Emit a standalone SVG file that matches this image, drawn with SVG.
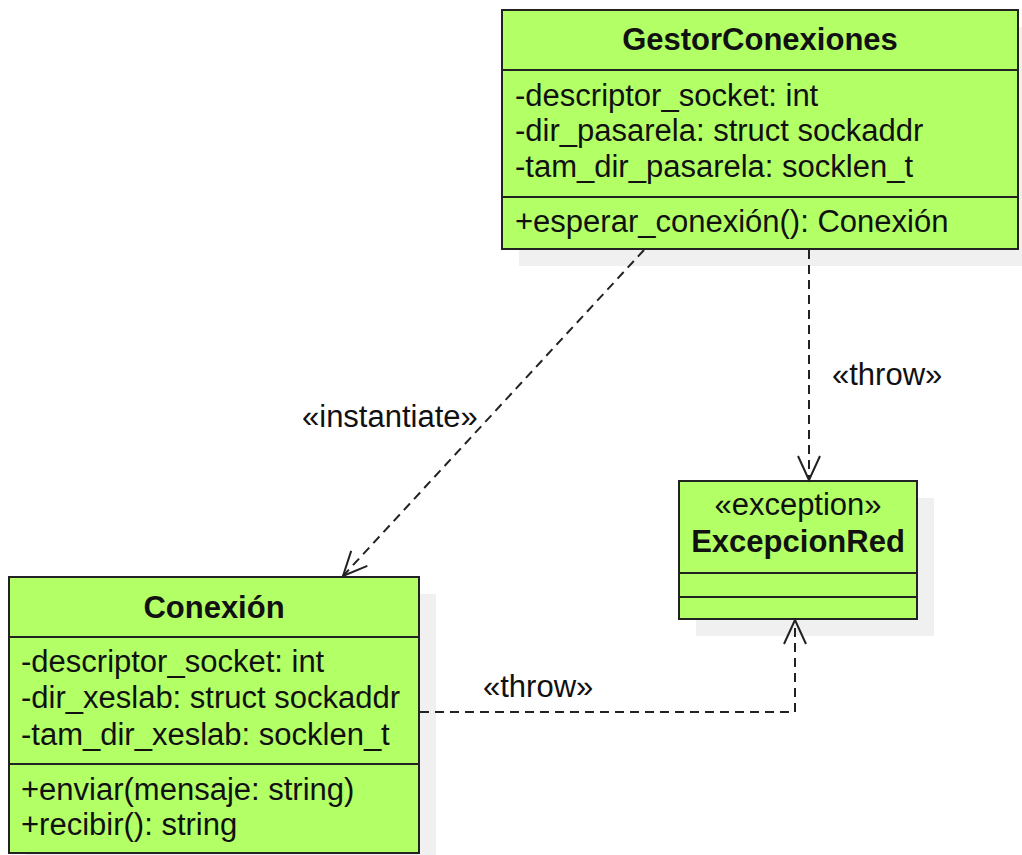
<svg xmlns="http://www.w3.org/2000/svg" width="1022" height="855" viewBox="0 0 1022 855">
<defs>
<style>
.shadow{fill:#f0f0f0;stroke:none}
.box{fill:#b3ff66;stroke:#222;stroke-width:2}
.div{stroke:#222;stroke-width:2}
.t{font-family:"Liberation Sans",Arial,sans-serif;font-size:31px;fill:#111}
.b{font-weight:bold;text-anchor:middle}
.c{text-anchor:middle}
.edge{fill:none;stroke:#222;stroke-width:2;stroke-dasharray:9 6}
</style>
<marker id="open" markerUnits="userSpaceOnUse" viewBox="-27 -14 30 28" markerWidth="30" markerHeight="28" refX="0" refY="0" orient="auto">
<path d="M-24,-11 L0,0 L-24,11" fill="none" stroke="#222" stroke-width="2"/>
</marker>
</defs>
<rect width="1022" height="855" fill="#fff"/>

<g id="GestorConexiones">
<rect class="shadow" x="519" y="27" width="516" height="239"/>
<rect class="box" x="502" y="10" width="516" height="239"/>
<line class="div" x1="502" y1="70" x2="1018" y2="70"/>
<line class="div" x1="502" y1="197" x2="1018" y2="197"/>
<text class="t b" x="760" y="50">GestorConexiones</text>
<text class="t" x="515" y="106">-descriptor_socket: int</text>
<text class="t" x="515" y="141">-dir_pasarela: struct sockaddr</text>
<text class="t" x="515" y="177">-tam_dir_pasarela: socklen_t</text>
<text class="t" x="515" y="232">+esperar_conexión(): Conexión</text>
</g>

<g id="Conexion">
<rect class="shadow" x="26" y="594" width="410" height="276"/>
<rect class="box" x="9" y="577" width="410" height="276"/>
<line class="div" x1="9" y1="637" x2="419" y2="637"/>
<line class="div" x1="9" y1="764" x2="419" y2="764"/>
<text class="t b" x="214" y="618">Conexión</text>
<text class="t" x="21" y="672">-descriptor_socket: int</text>
<text class="t" x="21" y="708">-dir_xeslab: struct sockaddr</text>
<text class="t" x="21" y="745">-tam_dir_xeslab: socklen_t</text>
<text class="t" x="21" y="800">+enviar(mensaje: string)</text>
<text class="t" x="21" y="835">+recibir(): string</text>
</g>

<g id="ExcepcionRed">
<rect class="shadow" x="696" y="498" width="238" height="138"/>
<rect class="box" x="679" y="481" width="238" height="138"/>
<line class="div" x1="679" y1="573" x2="917" y2="573"/>
<line class="div" x1="679" y1="597" x2="917" y2="597"/>
<text class="t c" x="798" y="515">«exception»</text>
<text class="t b" x="798" y="552">ExcepcionRed</text>
</g>

<g id="connectors">
<path class="edge" d="M644,250 L343,576" marker-end="url(#open)"/>
<text class="t" x="302" y="427">«instantiate»</text>
<path class="edge" d="M809,250 L809,480" marker-end="url(#open)"/>
<text class="t" x="832" y="385">«throw»</text>
<path class="edge" d="M420,712 L795,712 L795,620" marker-end="url(#open)"/>
<text class="t" x="483" y="697">«throw»</text>
</g>
</svg>
